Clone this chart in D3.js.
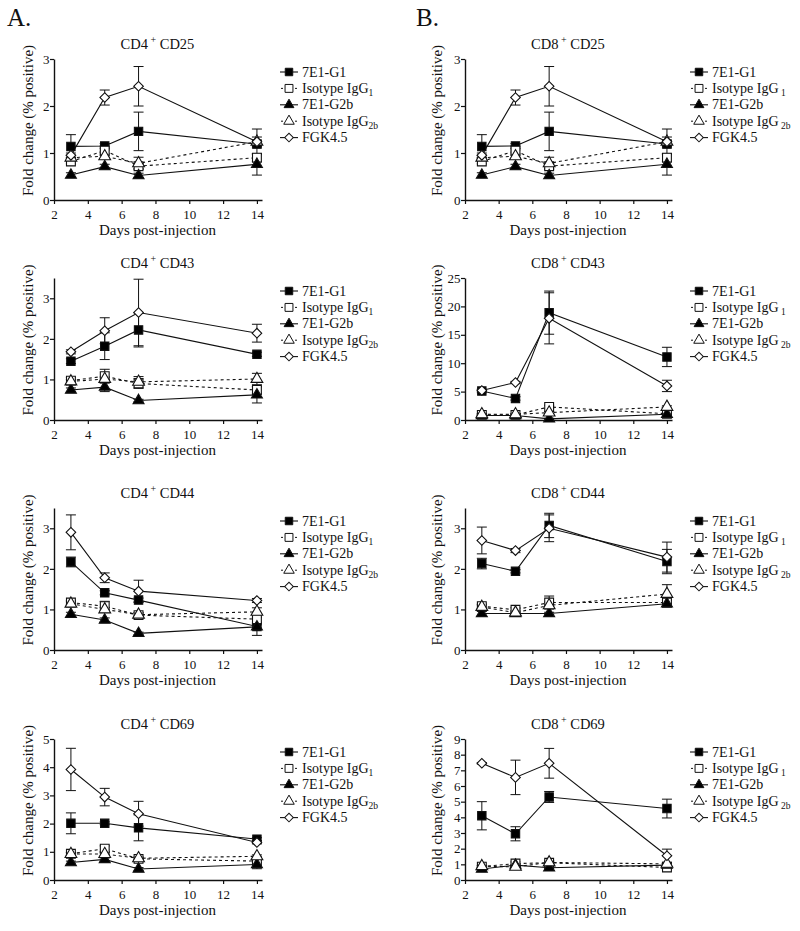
<!DOCTYPE html>
<html>
<head>
<meta charset="utf-8">
<script src="https://cdn.jsdelivr.net/npm/d3@7"></script>
<style>
  body { margin: 0; background: #fff; }
  svg { display: block; }
  text { font-family: "Liberation Serif", "Times New Roman", Times, serif; fill: #111; }
</style>
</head>
<body>
<svg id="chart" width="800" height="931"></svg>
<script>
// ---------- data ----------
const days = [3, 5, 7, 14];
const xTicks = [2, 4, 6, 8, 10, 12, 14];
const seriesNames = ["7E1-G1", "Isotype IgG", "7E1-G2b", "Isotype IgG", "FGK4.5"];
const seriesSubs = ["", "1", "", "2b", ""];

// order of rows in each array: 7E1-G1, Isotype IgG1, 7E1-G2b, Isotype IgG2b, FGK4.5
const cd4cd25Mean = [[1.14, 1.15, 1.46, 1.19], [0.82, 1.05, 0.72, 0.90], [0.53, 0.71, 0.52, 0.76], [0.90, 0.93, 0.78, 1.24], [0.95, 2.18, 2.42, 1.24]];
const cd4cd25Err  = [[0.25, 0.05, 0.41, 0.08], [0.05, 0.10, 0.05, 0.08], [0.05, 0.05, 0.05, 0.23], [0.05, 0.05, 0.13, 0.10], [0.05, 0.16, 0.42, 0.27]];

const cd8cd25Mean = [[1.14, 1.15, 1.46, 1.19], [0.82, 1.05, 0.72, 0.90], [0.53, 0.71, 0.52, 0.76], [0.90, 0.93, 0.78, 1.24], [0.95, 2.18, 2.42, 1.24]];
const cd8cd25Err  = [[0.25, 0.05, 0.41, 0.08], [0.05, 0.10, 0.05, 0.08], [0.05, 0.05, 0.05, 0.23], [0.05, 0.05, 0.13, 0.10], [0.05, 0.16, 0.42, 0.27]];

const cd4cd43Mean = [[1.45, 1.82, 2.22, 1.62], [0.97, 1.08, 0.90, 0.74], [0.74, 0.81, 0.48, 0.62], [0.95, 1.01, 0.94, 1.01], [1.68, 2.20, 2.65, 2.14]];
const cd4cd43Err  = [[0.06, 0.33, 0.42, 0.05], [0.08, 0.17, 0.12, 0.08], [0.05, 0.11, 0.03, 0.20], [0.05, 0.05, 0.13, 0.14], [0.05, 0.32, 0.82, 0.22]];

const cd8cd43Mean = [[5.1, 3.8, 18.9, 11.1], [0.9, 0.9, 2.3, 1.1], [0.8, 0.8, 0.2, 1.0], [1.0, 1.0, 1.3, 2.3], [5.2, 6.6, 17.9, 6.0]];
const cd8cd43Err  = [[0.3, 0.3, 3.8, 1.7], [0.2, 0.2, 0.3, 0.2], [0.1, 0.1, 0.1, 0.1], [0.1, 0.1, 0.2, 0.2], [0.2, 0.2, 4.5, 1.0]];

const cd4cd44Mean = [[2.17, 1.41, 1.23, 0.58], [1.17, 1.08, 0.86, 0.76], [0.88, 0.74, 0.41, 0.57], [1.14, 1.00, 0.87, 0.94], [2.90, 1.78, 1.45, 1.22]];
const cd4cd44Err  = [[0.12, 0.05, 0.05, 0.22], [0.05, 0.12, 0.05, 0.10], [0.05, 0.05, 0.03, 0.05], [0.05, 0.05, 0.05, 0.10], [0.43, 0.12, 0.27, 0.05]];

const cd8cd44Mean = [[2.13, 1.94, 3.07, 2.18], [1.08, 0.99, 1.17, 1.17], [0.90, 0.90, 0.90, 1.14], [1.06, 0.92, 1.10, 1.38], [2.70, 2.45, 3.00, 2.29]];
const cd8cd44Err  = [[0.13, 0.04, 0.30, 0.30], [0.05, 0.05, 0.16, 0.08], [0.05, 0.03, 0.03, 0.08], [0.05, 0.05, 0.08, 0.23], [0.33, 0.05, 0.33, 0.37]];

const cd4cd69Mean = [[2.01, 2.01, 1.85, 1.45], [0.93, 1.11, 0.75, 0.67], [0.62, 0.73, 0.39, 0.55], [0.92, 0.92, 0.77, 0.84], [3.92, 2.94, 2.35, 1.33]];
const cd4cd69Err  = [[0.37, 0.05, 0.46, 0.05], [0.05, 0.10, 0.05, 0.05], [0.05, 0.05, 0.05, 0.15], [0.05, 0.05, 0.05, 0.05], [0.75, 0.31, 0.44, 0.05]];

const cd8cd69Mean = [[4.10, 2.95, 5.30, 4.56], [0.85, 1.05, 1.10, 0.80], [0.70, 0.95, 0.78, 0.95], [0.88, 0.84, 1.12, 1.03], [7.45, 6.55, 7.45, 1.55]];
const cd8cd69Err  = [[0.90, 0.45, 0.35, 0.60], [0.05, 0.10, 0.10, 0.10], [0.05, 0.05, 0.05, 0.05], [0.05, 0.10, 0.10, 0.10], [0.05, 1.10, 0.95, 0.42]];

const titlesA = ["CD25", "CD43", "CD44", "CD69"];
const yMaxA = [3, 3.5, 3.5, 5];
const yTicksA = [[0, 1, 2, 3], [0, 1, 2, 3], [0, 1, 2, 3], [0, 1, 2, 3, 4, 5]];
const yMaxB = [3, 25, 3.5, 9];
const yTicksB = [[0, 1, 2, 3], [0, 5, 10, 15, 20, 25], [0, 1, 2, 3], [0, 1, 2, 3, 4, 5, 6, 7, 8, 9]];

// ---------- layout ----------
const svg = d3.select("#chart");
const FONT = "'Liberation Serif', 'Times New Roman', Times, serif";
const colX = [{ x0: 54, x1: 262, lx: 280, subSpace: false, ylab: 28 },
              { x0: 465, x1: 672, lx: 690, subSpace: true, ylab: 437 }];
const rowY = [{ top: 59, bottom: 200 }, { top: 278, bottom: 420 }, { top: 508, bottom: 650 }, { top: 739, bottom: 880 }];
const xDomain = [2, 14.3];

const panels = [
  { col: 0, row: 0, cd: "CD4", t: titlesA[0], mean: cd4cd25Mean, err: cd4cd25Err, ymax: yMaxA[0], ticks: yTicksA[0] },
  { col: 0, row: 1, cd: "CD4", t: titlesA[1], mean: cd4cd43Mean, err: cd4cd43Err, ymax: yMaxA[1], ticks: yTicksA[1] },
  { col: 0, row: 2, cd: "CD4", t: titlesA[2], mean: cd4cd44Mean, err: cd4cd44Err, ymax: yMaxA[2], ticks: yTicksA[2] },
  { col: 0, row: 3, cd: "CD4", t: titlesA[3], mean: cd4cd69Mean, err: cd4cd69Err, ymax: yMaxA[3], ticks: yTicksA[3] },
  { col: 1, row: 0, cd: "CD8", t: titlesA[0], mean: cd8cd25Mean, err: cd8cd25Err, ymax: yMaxB[0], ticks: yTicksB[0] },
  { col: 1, row: 1, cd: "CD8", t: titlesA[1], mean: cd8cd43Mean, err: cd8cd43Err, ymax: yMaxB[1], ticks: yTicksB[1] },
  { col: 1, row: 2, cd: "CD8", t: titlesA[2], mean: cd8cd44Mean, err: cd8cd44Err, ymax: yMaxB[2], ticks: yTicksB[2] },
  { col: 1, row: 3, cd: "CD8", t: titlesA[3], mean: cd8cd69Mean, err: cd8cd69Err, ymax: yMaxB[3], ticks: yTicksB[3] }
];

// series styles: marker type, filled, dashed, rotation
const styles = [
  { sym: d3.symbolSquare, size: 70, fill: "#000", dash: null, rot: 0 },
  { sym: d3.symbolSquare, size: 78, fill: "#fff", dash: "3,3", rot: 0 },
  { sym: d3.symbolTriangle, size: 52, fill: "#000", dash: null, rot: 0 },
  { sym: d3.symbolTriangle, size: 60, fill: "#fff", dash: "3,3", rot: 0 },
  { sym: d3.symbolSquare, size: 46, fill: "#fff", dash: null, rot: 45 }
];

// panel letters
svg.append("text").attr("x", 7).attr("y", 26).attr("font-size", 25).style("font-family", FONT).text("A.");
svg.append("text").attr("x", 416).attr("y", 26).attr("font-size", 25).style("font-family", FONT).text("B.");

panels.forEach(p => {
  const c = colX[p.col], r = rowY[p.row];
  const x = d3.scaleLinear().domain(xDomain).range([c.x0, c.x1]);
  const y = d3.scaleLinear().domain([0, p.ymax]).range([r.bottom, r.top]);
  const g = svg.append("g").style("font-family", FONT);

  // axes
  const xa = g.append("g").attr("transform", `translate(0,${r.bottom})`)
    .call(d3.axisBottom(x).tickValues(xTicks).tickFormat(d3.format("d")).tickSize(4).tickSizeOuter(0));
  const ya = g.append("g").attr("transform", `translate(${c.x0},0)`)
    .call(d3.axisLeft(y).tickValues(p.ticks).tickFormat(d3.format("d")).tickSize(4).tickSizeOuter(0));
  [xa, ya].forEach(a => {
    a.attr("font-family", null);
    a.selectAll("path").attr("stroke", "#111").attr("stroke-width", 1.4);
    a.selectAll("line").attr("stroke", "#111").attr("stroke-width", 1.2);
    a.selectAll("text").attr("font-size", 13).style("font-family", FONT).attr("fill", "#111");
  });
  xa.selectAll("text").attr("dy", "0.9em");
  ya.selectAll("text").attr("dx", "0.2em");

  // title
  const cx = (x(2) + x(14)) / 2 + 2;
  const tt = g.append("text").attr("x", cx).attr("y", r.top - 10).attr("text-anchor", "middle").attr("font-size", 14.5);
  tt.append("tspan").text(p.cd);
  tt.append("tspan").attr("dy", -6).attr("font-size", 10).text(" +");
  tt.append("tspan").attr("dy", 6).text(" " + p.t);

  // axis labels
  g.append("text").attr("x", cx).attr("y", r.bottom + 35).attr("text-anchor", "middle").attr("font-size", 15)
    .text("Days post-injection");
  g.append("text").attr("transform", `translate(${c.ylab},${(r.top + r.bottom) / 2 - 9}) rotate(-90)`)
    .attr("text-anchor", "middle").attr("font-size", 15).attr("dy", "0.35em").text("Fold change (% positive)");

  // error bars
  p.mean.forEach((vals, si) => {
    vals.forEach((v, i) => {
      const e = p.err[si][i];
      if (!e) return;
      const xx = x(days[i]);
      const yHi = y(v + e), yLo = y(Math.max(0, v - e));
      g.append("line").attr("x1", xx).attr("x2", xx).attr("y1", yHi).attr("y2", yLo).attr("stroke", "#111").attr("stroke-width", 1);
      [yHi, yLo].forEach(yy => g.append("line").attr("x1", xx - 5).attr("x2", xx + 5).attr("y1", yy).attr("y2", yy).attr("stroke", "#111").attr("stroke-width", 1));
    });
  });

  // lines
  const line = d3.line().x((d, i) => x(days[i])).y(d => y(d));
  p.mean.forEach((vals, si) => {
    g.append("path").attr("d", line(vals)).attr("fill", "none").attr("stroke", "#111")
      .attr("stroke-width", 1.1).attr("stroke-dasharray", styles[si].dash);
  });

  // markers
  p.mean.forEach((vals, si) => {
    const s = styles[si];
    vals.forEach((v, i) => {
      g.append("path").attr("d", d3.symbol().type(s.sym).size(s.size)())
        .attr("transform", `translate(${x(days[i])},${y(v)}) rotate(${s.rot})`)
        .attr("fill", s.fill).attr("stroke", "#111").attr("stroke-width", 1.1);
    });
  });

  // legend
  seriesNames.forEach((nm, si) => {
    const s = styles[si];
    const ly = r.top + 13 + si * 16.4;
    const lg = g.append("g");
    if (s.dash) {
      lg.append("line").attr("x1", c.lx + 1).attr("x2", c.lx + 3).attr("y1", ly).attr("y2", ly).attr("stroke", "#111").attr("stroke-width", 1);
      lg.append("line").attr("x1", c.lx + 15).attr("x2", c.lx + 17).attr("y1", ly).attr("y2", ly).attr("stroke", "#111").attr("stroke-width", 1);
    } else {
      lg.append("line").attr("x1", c.lx).attr("x2", c.lx + 18).attr("y1", ly).attr("y2", ly).attr("stroke", "#111").attr("stroke-width", 1.1);
    }
    lg.append("path").attr("d", d3.symbol().type(s.sym).size(s.size * 0.8)())
      .attr("transform", `translate(${c.lx + 9},${ly}) rotate(${s.rot})`).attr("fill", s.fill).attr("stroke", "#111").attr("stroke-width", 1);
    const tx = lg.append("text").attr("x", c.lx + 22).attr("y", ly + 4.5).attr("font-size", 14);
    tx.append("tspan").text(nm);
    if (seriesSubs[si]) {
      tx.append("tspan").attr("dy", 3.5).attr("font-size", 9.5).text((c.subSpace ? " " : "") + seriesSubs[si]);
    }
  });
});
</script>
</body>
</html>
